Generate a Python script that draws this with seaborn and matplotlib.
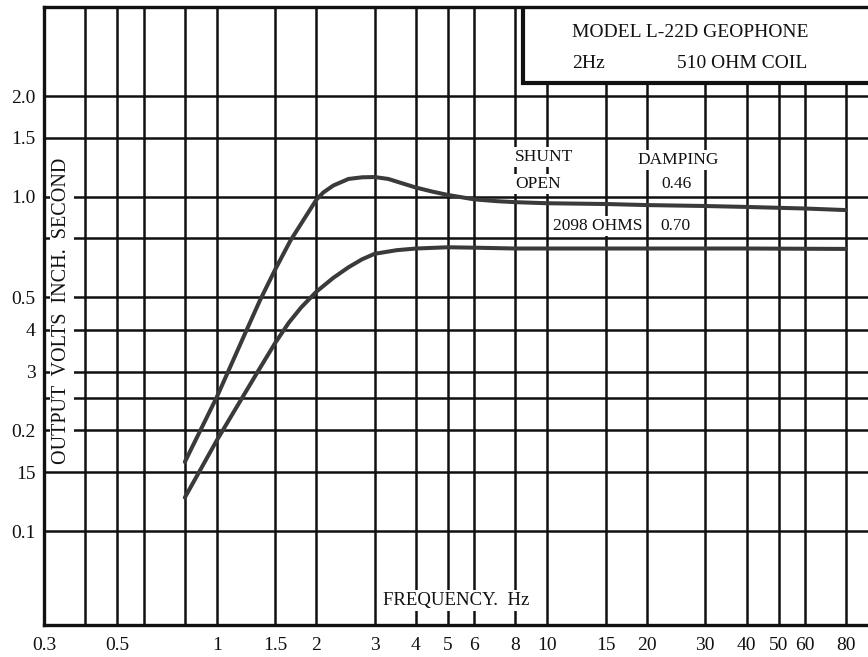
import numpy as np
import pandas as pd
import matplotlib
matplotlib.use('Agg')
import matplotlib.pyplot as plt
import seaborn as sns
from matplotlib.ticker import FixedLocator, FixedFormatter, NullLocator
from matplotlib.patches import Rectangle

# ---- data ----
freq_open = [0.8, 1.0, 1.21, 1.35, 1.5, 1.67, 2.0, 2.1, 2.25, 2.5, 2.75, 3.0, 3.3, 3.6,
             4.0, 4.5, 5.0, 6.0, 7.0, 8.0, 10, 15, 20, 30, 40, 60, 80]
out_open = [0.161, 0.252, 0.385, 0.49, 0.605, 0.74, 0.98, 1.03, 1.08, 1.13, 1.143, 1.145, 1.13, 1.10,
            1.065, 1.035, 1.012, 0.982, 0.97, 0.963, 0.956, 0.951, 0.944, 0.938, 0.932, 0.922, 0.912]

freq_shunt = [0.8, 1.0, 1.2, 1.33, 1.5, 1.65, 1.8, 2.0, 2.25, 2.5, 2.75, 3.0, 3.5,
              4.0, 5.0, 6.0, 8.0, 10, 20, 40, 80]
out_shunt = [0.126, 0.187, 0.253, 0.30, 0.365, 0.42, 0.467, 0.52, 0.572, 0.615, 0.65, 0.675, 0.692,
             0.70, 0.706, 0.704, 0.70, 0.70, 0.70, 0.70, 0.698]

x_grid = [0.3, 0.4, 0.5, 0.6, 0.8, 1, 1.5, 2, 3, 4, 5, 6, 8, 10, 15, 20, 30, 40, 50, 60, 80]
x_labels = ['0.3', '', '0.5', '', '', '1', '1.5', '2', '3', '4', '5', '6', '8',
            '10', '15', '20', '30', '40', '50', '60', '80']
y_grid = [2.0, 1.5, 1.0, 0.75, 0.5, 0.4, 0.3, 0.25, 0.2, 0.15, 0.1]
y_labels = ['2.0', '1.5', '1.0', '', '0.5', '4', '3', '', '0.2', '15', '0.1']

title_line1 = 'MODEL L-22D GEOPHONE'
title_line2a = '2Hz'
title_line2b = '510 OHM COIL'
shunt_header = 'SHUNT'
damping_header = 'DAMPING'
shunt_values = ['OPEN', '2098 OHMS']
damping_values = ['0.46', '0.70']
x_title = 'FREQUENCY.  Hz'
y_title = 'OUTPUT  VOLTS  INCH.  SECOND'

# ---- style ----
sns.set_theme(style='white')
plt.rcParams['font.family'] = ['Liberation Serif', 'DejaVu Serif']

df = pd.concat([
    pd.DataFrame({'freq': freq_open, 'out': out_open, 'shunt': shunt_values[0]}),
    pd.DataFrame({'freq': freq_shunt, 'out': out_shunt, 'shunt': shunt_values[1]}),
], ignore_index=True)

W, H = 868, 657
fig = plt.figure(figsize=(W / 100, H / 100), dpi=100)
ax = fig.add_axes([44 / W, 1 - 625 / H, 824 / W, 618 / H])
ax.set_xscale('log')
ax.set_yscale('log')

sns.lineplot(data=df, x='freq', y='out', hue='shunt',
             palette=['#3a3a3a', '#3a3a3a'], estimator=None, sort=False,
             linewidth=2.9, legend=False, ax=ax, zorder=3)

ax.set_xlim(0.3, 93.2)
ax.set_ylim(0.0524, 3.692)

ax.xaxis.set_major_locator(FixedLocator(x_grid))
ax.xaxis.set_major_formatter(FixedFormatter(x_labels))
ax.xaxis.set_minor_locator(NullLocator())
ax.yaxis.set_major_locator(FixedLocator(y_grid))
ax.yaxis.set_major_formatter(FixedFormatter(y_labels))
ax.yaxis.set_minor_locator(NullLocator())

ax.grid(True, which='major', color='#101010', linewidth=1.8)
ax.set_axisbelow(True)
ax.tick_params(axis='x', length=0, pad=9, labelsize=14, colors='#111111')
ax.tick_params(axis='y', length=0, pad=6, labelsize=14, colors='#111111')
ax.set_xlabel('')
ax.set_ylabel('')

for side in ['left', 'bottom', 'top']:
    ax.spines[side].set_visible(True)
    ax.spines[side].set_color('#111111')
    ax.spines[side].set_linewidth(2.4)
    ax.spines[side].set_zorder(6)
ax.spines['right'].set_visible(False)

# title box in upper right
box = Rectangle((0.581, 0.877), 0.5, 0.3, transform=ax.transAxes,
                facecolor='white', edgecolor='#111111', linewidth=3.0,
                zorder=5, clip_on=True)
ax.add_patch(box)

tk = dict(transform=ax.transAxes, color='#111111', zorder=7)
ax.text(0.641, 0.958, title_line1, ha='left', va='center', fontsize=14, **tk)
ax.text(0.641, 0.909, title_line2a, ha='left', va='center', fontsize=14, **tk)
ax.text(0.926, 0.909, title_line2b, ha='right', va='center', fontsize=14, **tk)

bb = dict(facecolor='white', edgecolor='none', pad=1.5)
ax.text(0.5716, 0.757, shunt_header, ha='left', va='center', fontsize=12.5, bbox=bb, **tk)
ax.text(0.5716, 0.714, shunt_values[0], ha='left', va='center', fontsize=12.5, bbox=bb, **tk)
ax.text(0.769, 0.752, damping_header, ha='center', va='center', fontsize=12.5, bbox=bb, **tk)
ax.text(0.767, 0.714, damping_values[0], ha='center', va='center', fontsize=12.5, bbox=bb, **tk)
ax.text(0.726, 0.645, shunt_values[1], ha='right', va='center', fontsize=12.5, bbox=bb, **tk)
ax.text(0.766, 0.645, damping_values[1], ha='center', va='center', fontsize=12.5, bbox=bb, **tk)

ax.text(0.5, 0.040, x_title, ha='center', va='center', fontsize=13.5, bbox=bb, **tk)
ax.text(0.0218, 0.508, y_title, ha='center', va='center', rotation=90,
        fontsize=14.5, bbox=dict(facecolor='white', edgecolor='none', pad=2), **tk)

fig.savefig('out.png', dpi=100)
